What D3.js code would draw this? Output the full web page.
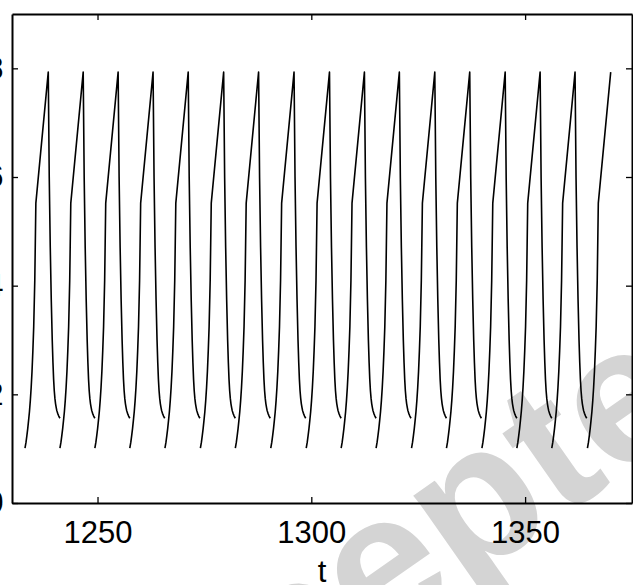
<!DOCTYPE html>
<html>
<head>
<meta charset="utf-8">
<script src="https://cdn.jsdelivr.net/npm/d3@7"></script>
<style>
  body { margin: 0; background: #fff; }
  svg { display: block; }
  text { font-family: Arial, "Liberation Sans", sans-serif; }
</style>
</head>
<body>
<div id="chart"></div>
<script>
// peak times of each cycle
var peakTimes = [1238.48, 1246.65, 1254.82, 1262.99, 1271.21, 1279.50, 1287.67, 1295.96, 1304.25,
                 1312.42, 1320.59, 1328.88, 1337.05, 1345.34, 1353.51, 1361.68, 1370.02];
// shape of one cycle, relative to its peak (rising branch, then falling branch)
var riseOffsets = [-5.44, -5.2, -5.0, -4.8, -4.6, -4.4, -4.2, -4.0, -3.8, -3.6, -3.4, -3.15, -2.9, 0];
var riseValues  = [0.101, 0.112, 0.124, 0.137, 0.152, 0.168, 0.188, 0.212, 0.242, 0.28, 0.325, 0.41, 0.552, 0.793];
var fallOffsets = [0, 0.23, 0.47, 0.7, 0.93, 1.1, 1.25, 1.4, 1.55, 1.7, 1.85, 2.0, 2.2, 2.45, 2.73];
var fallValues  = [0.793, 0.60, 0.47, 0.375, 0.30, 0.258, 0.228, 0.207, 0.193, 0.183, 0.176, 0.170, 0.165, 0.160, 0.156];

var xTicks = [1250, 1300, 1350];
var yTicks = [0, 0.2, 0.4, 0.6, 0.8];
var yTickLabels = ["0", "0.2", "0.4", "0.6", "0.8"];

var width = 633, height = 585;
var mLeft = 12, mRight = 632, mTop = 14, mBottom = 503;

var svg = d3.select("#chart").append("svg")
  .attr("width", width).attr("height", height);

var x = d3.scaleLinear().domain([1230, 1375]).range([mLeft, mRight]);
var y = d3.scaleLinear().domain([0, 0.9]).range([mBottom, mTop]);

// watermark
svg.append("text")
  .attr("transform", "translate(80,855) rotate(-35)")
  .attr("font-size", 195)
  .attr("font-weight", "bold")
  .attr("fill", "#d4d4d4")
  .text("Accepted Manuscript");

// one path per cycle (signal jumps between cycles)
var cycles = peakTimes.map(function(p, i) {
  var pts = riseOffsets.map(function(o, j) { return [p + o, riseValues[j]]; });
  if (i < peakTimes.length - 1) {
    fallOffsets.forEach(function(o, j) { if (j > 0) pts.push([p + o, fallValues[j]]); });
  }
  return pts;
});

var line = d3.line()
  .x(function(d) { return x(d[0]); })
  .y(function(d) { return y(d[1]); });

svg.append("g").selectAll("path")
  .data(cycles)
  .enter().append("path")
  .attr("d", line)
  .attr("fill", "none")
  .attr("stroke", "#000")
  .attr("stroke-width", 1.6)
  .attr("stroke-linejoin", "round");

// axes, MATLAB style box with inward ticks
svg.append("g").attr("transform", "translate(0," + mBottom + ")")
  .call(d3.axisBottom(x).tickValues(xTicks).tickSizeInner(-6).tickSizeOuter(0).tickPadding(18).tickFormat(d3.format("d")));
svg.append("g").attr("transform", "translate(0," + mTop + ")")
  .call(d3.axisTop(x).tickValues(xTicks).tickSizeInner(-6).tickSizeOuter(0).tickFormat(""));
svg.append("g").attr("transform", "translate(" + mLeft + ",0)")
  .call(d3.axisLeft(y).tickValues(yTicks).tickSizeInner(-6).tickSizeOuter(0).tickPadding(8.5)
    .tickFormat(function(d, i) { return yTickLabels[i]; }));
svg.append("g").attr("transform", "translate(" + mRight + ",0)")
  .call(d3.axisRight(y).tickValues(yTicks).tickSizeInner(-6).tickSizeOuter(0).tickFormat(""));

svg.selectAll(".domain").attr("stroke", "#000").attr("stroke-width", 2);
svg.selectAll(".tick line").attr("stroke", "#000").attr("stroke-width", 1.3);
svg.selectAll(".tick text").attr("font-size", 31).attr("fill", "#000")
  .attr("font-family", "Arial, 'Liberation Sans', sans-serif");

svg.append("text")
  .attr("x", (mLeft + mRight) / 2)
  .attr("y", 582)
  .attr("text-anchor", "middle")
  .attr("font-size", 31)
  .text("t");
</script>
</body>
</html>
